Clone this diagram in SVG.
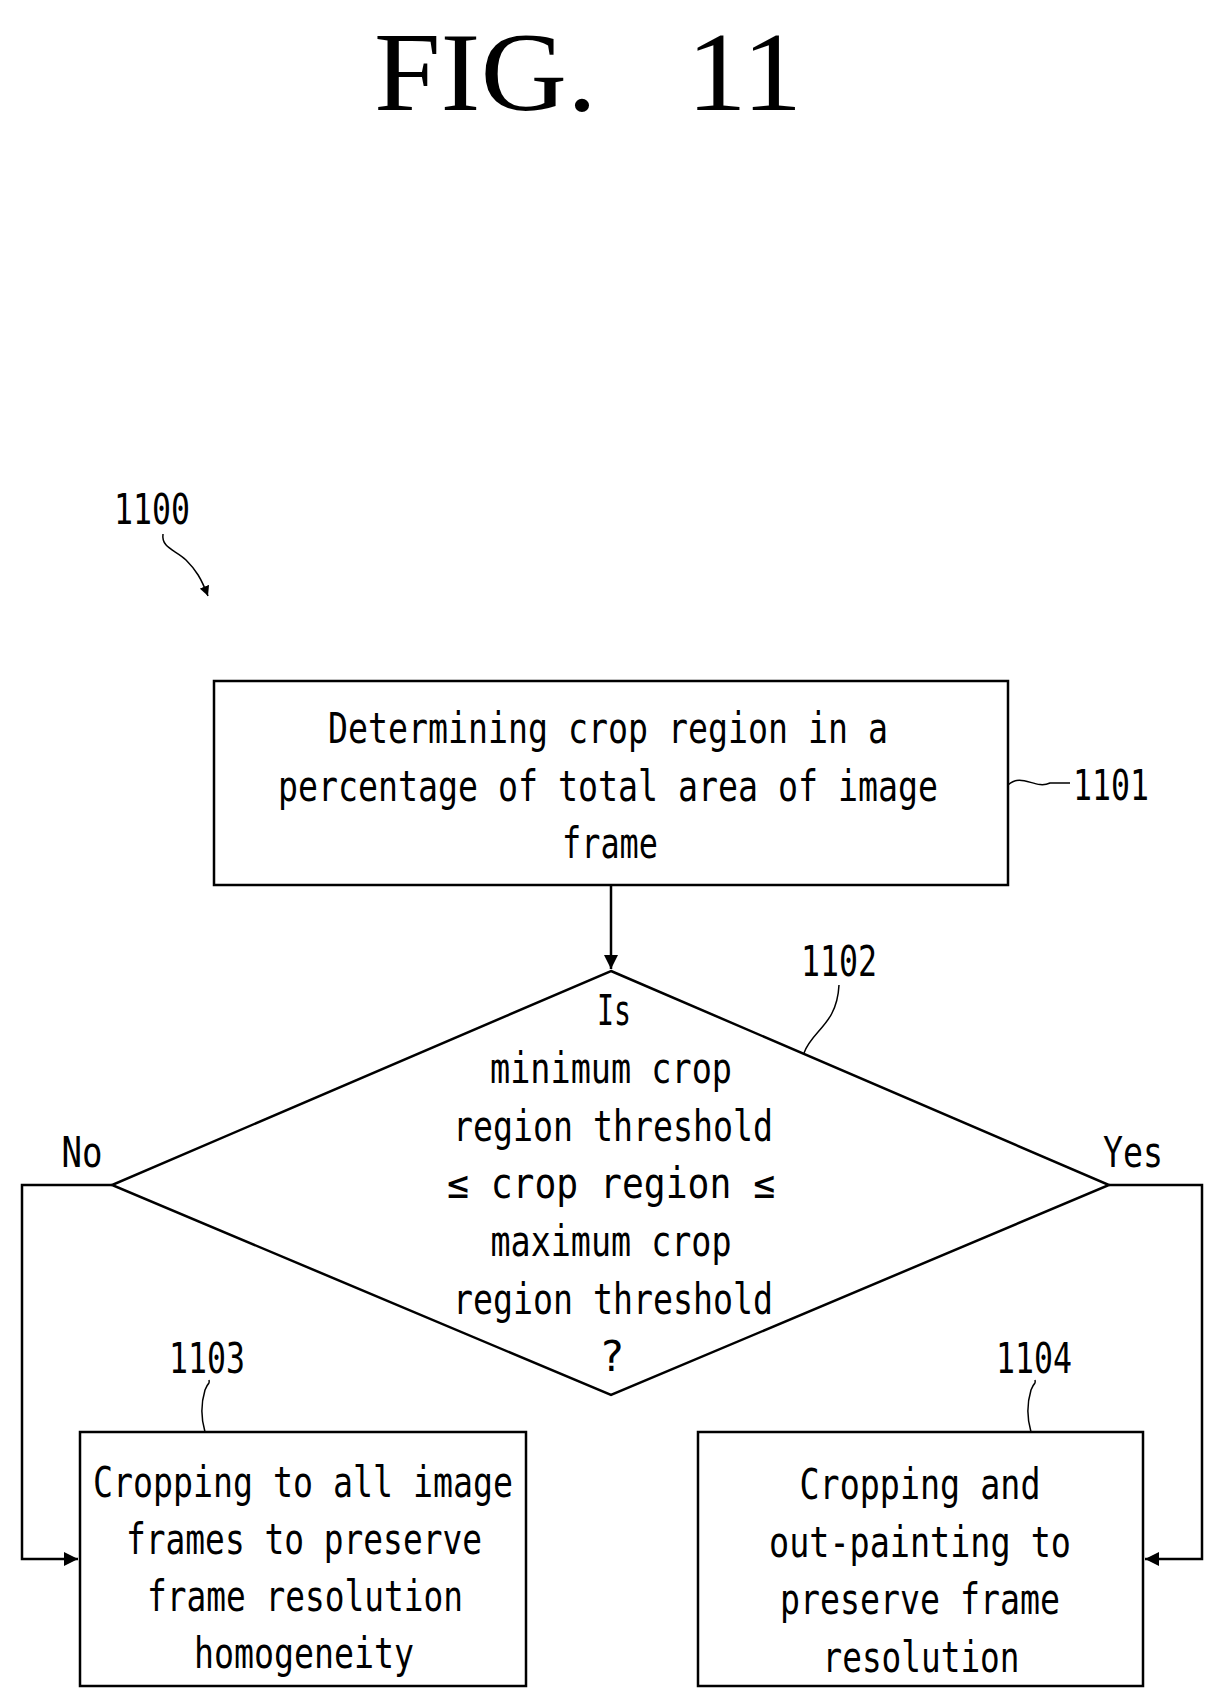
<svg xmlns="http://www.w3.org/2000/svg" width="1221" height="1707" viewBox="0 0 1221 1707">
<defs>
<style>
.t{font-family:"DejaVu Sans Mono","Liberation Mono",monospace;font-size:42px;fill:#000;text-anchor:middle;dominant-baseline:central}
.s{fill:none;stroke:#000;stroke-width:2.5}
.l{fill:none;stroke:#000;stroke-width:1.5}
</style>
<marker id="a" viewBox="0 0 10 10" refX="10" refY="5" markerWidth="10" markerHeight="10" markerUnits="userSpaceOnUse" orient="auto"><path d="M0,0L10,5L0,10z" fill="#000"/></marker>
<marker id="b" viewBox="0 0 10 10" refX="10" refY="5" markerWidth="20" markerHeight="14" markerUnits="userSpaceOnUse" orient="auto"><path d="M0,0L10,5L0,10z" fill="#000"/></marker>
</defs>
<rect width="1221" height="1707" fill="#fff"/>
<text x="588" y="110" font-family="Liberation Serif,serif" font-size="112" text-anchor="middle" textLength="428" lengthAdjust="spacingAndGlyphs" xml:space="preserve">FIG.   11</text>
<g id="label1100">
<text class="t" x="152" y="509" textLength="76" lengthAdjust="spacingAndGlyphs">1100</text>
<path class="l" d="M163,534 C161,548 176,550 186,560 C196,570 201,578 208,596" marker-end="url(#a)"/>
</g>
<g id="n1101">
<rect class="s" x="214" y="681" width="794" height="204" fill="#fff"/>
<text class="t" x="608" y="728" textLength="560" lengthAdjust="spacingAndGlyphs">Determining crop region in a</text>
<text class="t" x="608" y="786" textLength="660" lengthAdjust="spacingAndGlyphs">percentage of total area of image</text>
<text class="t" x="610" y="843" textLength="96" lengthAdjust="spacingAndGlyphs">frame</text>
<path class="l" d="M1008,785 C1022,772 1035,790 1050,783 L1070,783"/>
<text class="t" x="1111" y="785" textLength="76" lengthAdjust="spacingAndGlyphs">1101</text>
</g>
<g id="n1102">
<polygon class="s" points="611,971 1109,1185 611,1395 112,1185" fill="#fff"/>
<text class="t" x="614" y="1010" textLength="34" lengthAdjust="spacingAndGlyphs">Is</text>
<text class="t" x="611" y="1068" textLength="242" lengthAdjust="spacingAndGlyphs">minimum crop</text>
<text class="t" x="613" y="1126" textLength="320" lengthAdjust="spacingAndGlyphs">region threshold</text>
<text class="t" x="611" y="1183" textLength="328" lengthAdjust="spacingAndGlyphs">≤ crop region ≤</text>
<text class="t" x="611" y="1241" textLength="241" lengthAdjust="spacingAndGlyphs">maximum crop</text>
<text class="t" x="613" y="1299" textLength="320" lengthAdjust="spacingAndGlyphs">region threshold</text>
<text class="t" x="612" y="1356">?</text>
<path class="l" d="M804,1053 C812,1030 837,1025 839,985"/>
<text class="t" x="839" y="961" textLength="76" lengthAdjust="spacingAndGlyphs">1102</text>
<text class="t" x="82" y="1152" textLength="41" lengthAdjust="spacingAndGlyphs">No</text>
<text class="t" x="1133" y="1152" textLength="60" lengthAdjust="spacingAndGlyphs">Yes</text>
</g>
<g id="n1103">
<rect class="s" x="80" y="1432" width="446" height="254" fill="#fff"/>
<text class="t" x="303" y="1482" textLength="420" lengthAdjust="spacingAndGlyphs">Cropping to all image</text>
<text class="t" x="304" y="1539" textLength="356" lengthAdjust="spacingAndGlyphs">frames to preserve</text>
<text class="t" x="305" y="1596" textLength="316" lengthAdjust="spacingAndGlyphs">frame resolution</text>
<text class="t" x="304" y="1653" textLength="220" lengthAdjust="spacingAndGlyphs">homogeneity</text>
<path class="l" d="M205,1432 C200,1415 202,1400 205,1390 C209,1380 210,1385 209,1380"/>
<text class="t" x="207" y="1358" textLength="76" lengthAdjust="spacingAndGlyphs">1103</text>
</g>
<g id="n1104">
<rect class="s" x="698" y="1432" width="445" height="254" fill="#fff"/>
<text class="t" x="920" y="1484" textLength="241" lengthAdjust="spacingAndGlyphs">Cropping and</text>
<text class="t" x="920" y="1542" textLength="302" lengthAdjust="spacingAndGlyphs">out-painting to</text>
<text class="t" x="920" y="1599" textLength="280" lengthAdjust="spacingAndGlyphs">preserve frame</text>
<text class="t" x="921" y="1657" textLength="197" lengthAdjust="spacingAndGlyphs">resolution</text>
<path class="l" d="M1031,1432 C1026,1415 1028,1400 1031,1390 C1035,1380 1036,1385 1035,1380"/>
<text class="t" x="1034" y="1358" textLength="76" lengthAdjust="spacingAndGlyphs">1104</text>
</g>
<g id="connectors">
<path class="s" d="M611,885 L611,969" marker-end="url(#b)"/>
<path class="s" d="M112,1185 L22,1185 L22,1559 L78,1559" marker-end="url(#b)"/>
<path class="s" d="M1109,1185 L1202,1185 L1202,1559 L1145,1559" marker-end="url(#b)"/>
</g>
</svg>
